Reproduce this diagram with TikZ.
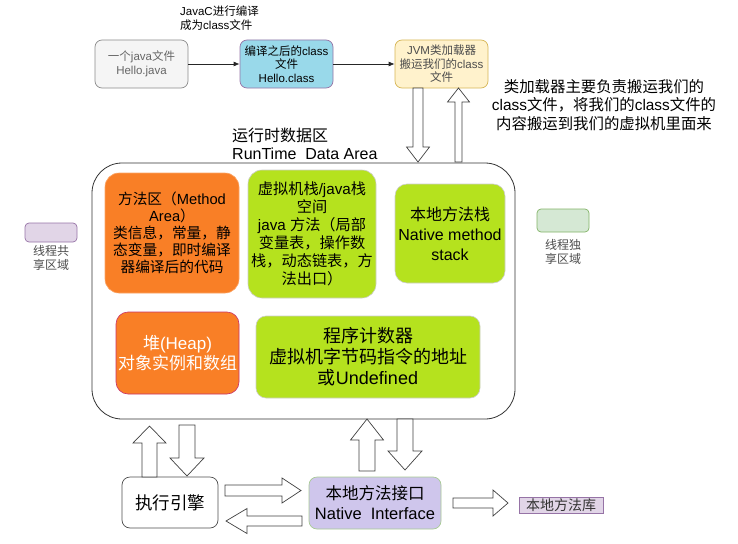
\documentclass[tikz,border=0pt]{standalone}
\usepackage{fontspec}
\setmainfont{Liberation Sans}
\newfontfamily\cjk{Noto Sans CJK SC}
% switch to the CJK font for Chinese characters
\XeTeXinterchartokenstate=1
\newXeTeXintercharclass\cjkcls
\newcount\cjkc
\cjkc="3000 \loop\XeTeXcharclass\cjkc=\cjkcls\ifnum\cjkc<"303F \advance\cjkc by 1 \repeat
\cjkc="4E00 \loop\XeTeXcharclass\cjkc=\cjkcls\ifnum\cjkc<"9FFF \advance\cjkc by 1 \repeat
\cjkc="FF00 \loop\XeTeXcharclass\cjkc=\cjkcls\ifnum\cjkc<"FFEF \advance\cjkc by 1 \repeat
\XeTeXinterchartoks 0 \cjkcls = {\cjk}
\XeTeXinterchartoks 4095 \cjkcls = {\cjk}
\XeTeXinterchartoks \cjkcls 0 = {\rmfamily}
\usetikzlibrary{arrows.meta, positioning}

\definecolor{fileGray}{HTML}{F5F5F5}
\definecolor{classBlue}{HTML}{99D9EA}
\definecolor{loaderYellow}{HTML}{FFF2CC}
\definecolor{loaderLine}{HTML}{D6B656}
\definecolor{purpleLine}{HTML}{9673A6}
\definecolor{sharedFill}{HTML}{E1D5E7}
\definecolor{privFill}{HTML}{D5E8D4}
\definecolor{privLine}{HTML}{82B366}
\definecolor{areaOrange}{HTML}{F97F26}
\definecolor{areaLime}{HTML}{B5E21E}
\definecolor{heapLine}{HTML}{C8336A}
\definecolor{nativeFill}{HTML}{CFC6EC}

% hollow block arrow: start, angle, length, shaft half width, head half width, head length
\newcommand\fatarrow[6]{%
  \draw[fat, shift={(#1)}, rotate=#2] (0,-#4) -- ({#3-#6},-#4) -- ({#3-#6},-#5) -- (#3,0)
    -- ({#3-#6},#5) -- ({#3-#6},#4) -- (0,#4) -- cycle;}

\begin{document}
\begin{tikzpicture}[x=1pt, y=-1pt,
    filebox/.style={draw, line width=0.7pt, rounded corners=7, align=center, inner sep=1pt,
      minimum width=93, minimum height=48, font=\fontsize{11.5}{13.5}\selectfont},
    areabox/.style={rounded corners=14, align=center, line width=0.6pt, inner sep=1pt},
    legendbox/.style={line width=0.7pt, rounded corners=4, minimum width=52},
    legendtext/.style={align=center, text=black!70, font=\fontsize{12}{13.5}\selectfont},
    fat/.style={draw=black!75, fill=white, line width=0.7pt},
    flow/.style={-{Latex[length=6pt,width=5pt]}, line width=0.8pt, draw=black!85}]
  \useasboundingbox (0,0) rectangle (738,543);

  % compile and load
  \node[anchor=north west, align=left, inner sep=0pt, font=\fontsize{11.5}{14}\selectfont] (javac) at (180,6)
    {JavaC进行编译\\成为class文件};
  \node[filebox, fill=fileGray, draw=black!45, text=black!60] (java) at (141.5,64) {一个java文件\\Hello.java};
  \node[filebox, fill=classBlue, draw=purpleLine] (classf) at (286.5,64) {编译之后的class\\文件\\Hello.class};
  \node[filebox, fill=loaderYellow, draw=loaderLine, text=black!70] (loader) at (441.5,64)
    {JVM类加载器\\搬运我们的class\\文件};
  \draw[flow] (java) -- (classf);
  \draw[flow] (classf) -- (loader);
  \node[align=center, font=\fontsize{15.4}{18.5}\selectfont] (loadnote) at (604,105)
    {类加载器主要负责搬运我们的\\class文件，将我们的class文件的\\内容搬运到我们的虚拟机里面来};

  % runtime data area
  \node[anchor=west, align=left, inner sep=0pt, font=\fontsize{16}{18}\selectfont] (rtlabel) at (232,144)
    {运行时数据区\\RunTime\ \ Data Area};
  \node[draw=black!80, line width=0.8pt, rounded corners=30, minimum width=423, minimum height=256]
    (rtarea) at (303.5,291) {};
  \node[areabox, fill=areaOrange, draw=areaOrange!70!white, minimum width=134, minimum height=120,
    font=\fontsize{14.7}{17}\selectfont] (method) at (172,233)
    {方法区（Method\\Area）\\类信息，常量，静\\态变量，即时编译\\器编译后的代码};
  \node[areabox, fill=areaLime, draw=black!20, minimum width=128, minimum height=128,
    font=\fontsize{15.2}{18}\selectfont] (jstack) at (312,234)
    {虚拟机栈/java栈\\空间\\java 方法（局部\\变量表，操作数\\栈，动态链表，方\\法出口）};
  \node[areabox, fill=areaLime, draw=black!20, rounded corners=12, minimum width=110, minimum height=99,
    font=\fontsize{16}{20}\selectfont] (nstack) at (450,233.5) {本地方法栈\\Native method\\stack};
  \node[areabox, fill=areaOrange, draw=heapLine, rounded corners=12, minimum width=123, minimum height=82,
    text=white, font=\fontsize{17}{20}\selectfont] (heap) at (177.5,353) {堆(Heap)\\对象实例和数组};
  \node[areabox, fill=areaLime, draw=black!20, rounded corners=10, minimum width=224, minimum height=82,
    font=\fontsize{18}{21}\selectfont] (pc) at (368,357) {程序计数器\\虚拟机字节码指令的地址\\或Undefined};

  % legend
  \node[legendbox, fill=sharedFill, draw=purpleLine, minimum height=19] (shared) at (51,232.5) {};
  \node[legendtext, below=0pt of shared] (sharedtxt) {线程共\\享区域};
  \node[legendbox, fill=privFill, draw=privLine, minimum height=23] (private) at (563,220.5) {};
  \node[legendtext, below=4pt of private] (privatetxt) {线程独\\享区域};

  % engine and native interface
  \node[draw=black!70, line width=0.7pt, rounded corners=8, minimum width=96, minimum height=51,
    font=\fontsize{17.5}{20}\selectfont] (engine) at (170,502.5) {执行引擎};
  \node[fill=nativeFill, draw=privLine!70, line width=0.7pt, rounded corners=8, minimum width=132,
    minimum height=52, inner sep=1pt, align=center, font=\fontsize{16.5}{20}\selectfont] (native) at (375,503)
    {本地方法接口\\Native\ \ Interface};
  \node[fill=sharedFill, draw=purpleLine, line width=0.7pt, minimum width=84, minimum height=16,
    inner sep=0pt, text=black!80, font=\fontsize{14}{15}\selectfont] (nlib) at (561,505) {本地方法库};

  % block arrows
  \fatarrow{418,88}{-90}{74}{5}{11.5}{15}
  \fatarrow{458.5,162}{90}{74}{3.5}{11}{14}
  \fatarrow{149.5,477}{90}{51}{7.5}{16.5}{17}
  \fatarrow{187,425}{-90}{51}{8}{17}{18}
  \fatarrow{367,471}{90}{52}{8}{16.5}{21}
  \fatarrow{405,419}{-90}{51}{8}{17}{19}
  \fatarrow{225,490.5}{0}{76}{5.5}{12.5}{19}
  \fatarrow{302,521}{180}{76}{5}{12.5}{21}
  \fatarrow{453,503}{0}{55}{5}{13}{15}
\end{tikzpicture}
\end{document}
